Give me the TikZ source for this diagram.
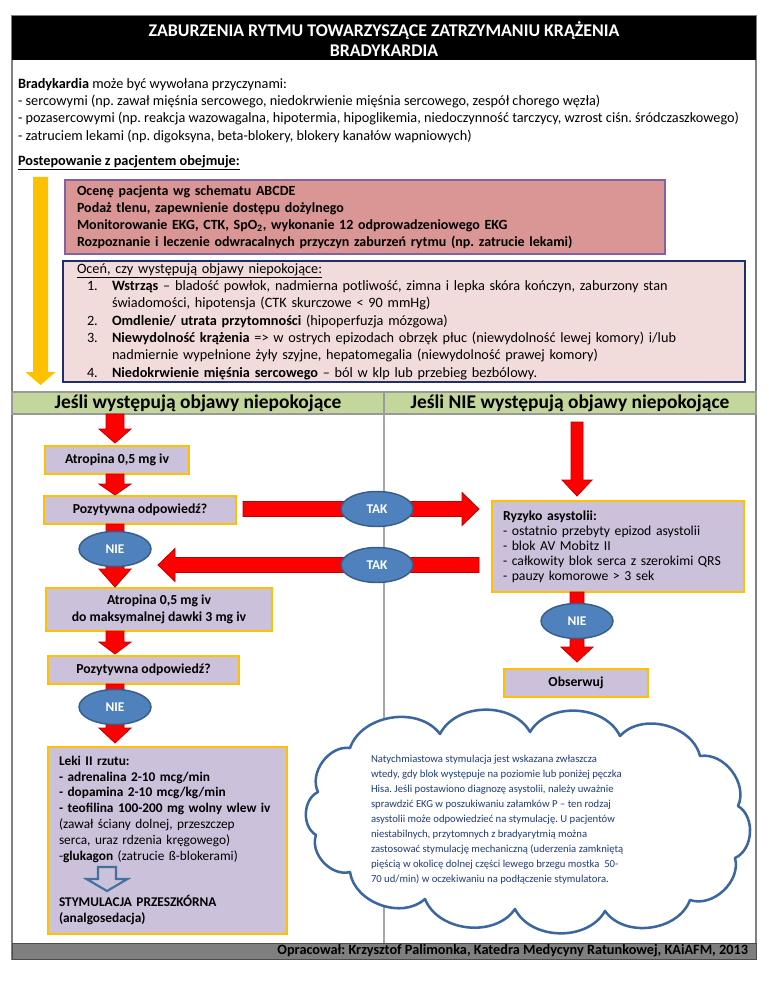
\documentclass[tikz,border=0pt]{standalone}
\usepackage{fontspec}
\setmainfont{Carlito}
\usetikzlibrary{calc,shapes.geometric}
\definecolor{boxpurple}{HTML}{CCC1DA}
\definecolor{boxyellow}{HTML}{FFC000}
\definecolor{arrred}{HTML}{FF0000}
\definecolor{arrdark}{HTML}{C00000}
\definecolor{ellfill}{HTML}{4F81BD}
\definecolor{elldraw}{HTML}{385D8A}
\definecolor{pinkA}{HTML}{D99694}
\definecolor{pinkAdraw}{HTML}{8064A2}
\definecolor{pinkB}{HTML}{F2DCDB}
\definecolor{navy}{HTML}{1F2F6B}
\definecolor{greenband}{HTML}{C3D69B}
\definecolor{framegray}{HTML}{808080}
\definecolor{footgray}{HTML}{7F7F7F}
\definecolor{cloudline}{HTML}{3C66A0}
\definecolor{cloudtext}{HTML}{1F3C7A}
\definecolor{hollowblue}{HTML}{41719C}
\newcommand\fsz[2]{\fontsize{#1}{#2}\selectfont}
% vertical (downward) block arrow: style, from, to, shaft half width, head half width, head length (px)
\newcommand\dblk[6]{%
 \path[#1] let \p1=(#2), \p2=(#3) in
  ({\x1-#4*0.75pt},\y1) -- ({\x1+#4*0.75pt},\y1) -- ({\x1+#4*0.75pt},{\y2+#6*0.75pt})
  -- ({\x1+#5*0.75pt},{\y2+#6*0.75pt}) -- (\x1,\y2) -- ({\x1-#5*0.75pt},{\y2+#6*0.75pt})
  -- ({\x1-#4*0.75pt},{\y2+#6*0.75pt}) -- cycle;}
% horizontal block arrow: style, from, to, shaft hw, head hw, head length, sign (-1 right, 1 left)
\newcommand\hblk[7]{%
 \path[#1] let \p1=(#2), \p2=(#3) in
  (\x1,{\y1+#4*0.75pt}) -- ({\x2+#7*#6*0.75pt},{\y1+#4*0.75pt}) -- ({\x2+#7*#6*0.75pt},{\y1+#5*0.75pt})
  -- (\x2,\y1) -- ({\x2+#7*#6*0.75pt},{\y1-#5*0.75pt}) -- ({\x2+#7*#6*0.75pt},{\y1-#4*0.75pt})
  -- (\x1,{\y1-#4*0.75pt}) -- cycle;}
\begin{document}
\frenchspacing
\begin{tikzpicture}[x=0.75pt,y=-0.75pt,
  every node/.style={outer sep=0pt},
  pbox/.style={draw=boxyellow, line width=2.2pt, fill=boxpurple, inner sep=0pt, font=\bfseries\fsz{10.3}{12.5}},
  ellnode/.style={ellipse, draw=elldraw, line width=1.1pt, fill=ellfill, text=white, inner sep=0pt,
     minimum width=72*0.75pt, minimum height=35*0.75pt, font=\bfseries\fsz{10}{11}},
  redarr/.style={fill=arrred, draw=arrdark, line width=0.6pt, line join=miter},
  yelarr/.style={fill=boxyellow},
  hollowarr/.style={fill=boxpurple, draw=hollowblue, line width=1.6pt, line join=miter},
  band/.style={fill=greenband, draw=gray!80, line width=0.8pt, inner sep=0pt, anchor=north west,
     minimum width=372*0.75pt, minimum height=22*0.75pt, font=\bfseries\fsz{14.6}{16}},
  cloudpath/.style={draw=cloudline, fill=white, line width=1.9pt, line join=round},
  puff/.style={bend left=62},
]
\useasboundingbox (0,0) rectangle (768,994);
% frame
\draw[framegray, line width=1.1pt] (12,16) rectangle (756,959);
\node[fill=black, anchor=north west, minimum width=744*0.75pt, minimum height=44*0.75pt, inner sep=0pt] (title) at (12,16) {};
\node[text=white, align=center, font=\bfseries\fsz{13.4}{15}] (titletxt) at ([yshift=-0.75pt]title.center) {ZABURZENIA RYTMU TOWARZYSZĄCE ZATRZYMANIU KRĄŻENIA\\BRADYKARDIA};
% intro text
\node[anchor=north west, align=left, inner sep=0pt, font=\fsz{10.7}{13}] (intro) at (18,78)
 {\textbf{Bradykardia} może być wywołana przyczynami:\\
 - sercowymi (np. zawał mięśnia sercowego, niedokrwienie mięśnia sercowego, zespół chorego węzła)\\
 - pozasercowymi (np. reakcja wazowagalna, hipotermia, hipoglikemia, niedoczynność tarczycy, wzrost ciśn. śródczaszkowego)\\
 - zatruciem lekami (np. digoksyna, beta-blokery, blokery kanałów wapniowych)};
\node[anchor=north west, inner sep=0pt, font=\bfseries\fsz{10.7}{13}] (postep) at (18,155)
 {\underline{Postepowanie z pacjentem obejmuje:}};
% yellow arrow
\coordinate (ytop) at (40.5,177);
\coordinate (ybot) at (40.5,385);
\dblk{yelarr}{ytop}{ybot}{7.5}{15}{13}
% box 1
\node[anchor=north west, draw=pinkAdraw, line width=2.2pt, fill=pinkA, minimum width=600*0.75pt, minimum height=74*0.75pt,
  inner xsep=9pt, inner ysep=0pt, text width=576*0.75pt, align=left, font=\bfseries\fsz{10.5}{12.75}] (abcde) at (65,180)
 {Ocenę pacjenta wg schematu ABCDE\\
 Podaż tlenu, zapewnienie dostępu dożylnego\\
 Monitorowanie EKG, CTK, SpO\textsubscript{2}, wykonanie 12 odprowadzeniowego EKG\\
 Rozpoznanie i leczenie odwracalnych przyczyn zaburzeń rytmu (np. zatrucie lekami)};
% box 2
\newcommand\itm[1]{\hspace*{7.5pt}\makebox[18.75pt][l]{#1}}
\newcommand\cnt{\hspace*{26.25pt}}
\node[anchor=north west, draw=navy, line width=2.2pt, fill=pinkB, minimum width=682*0.75pt, minimum height=121*0.75pt,
  inner xsep=10.5pt, inner ysep=0pt, text width=654*0.75pt, align=left, font=\fsz{10.7}{13}] (objawy) at (63,261)
 {\underline{Oceń, czy występują objawy niepokojące:}\\
 \itm{1.}\textbf{Wstrząs} – bladość powłok, nadmierna potliwość, zimna i lepka skóra kończyn, zaburzony stan\\
 \cnt świadomości, hipotensja (CTK skurczowe < 90 mmHg)\\
 \itm{2.}\textbf{Omdlenie/ utrata przytomności} (hipoperfuzja mózgowa)\\
 \itm{3.}\textbf{Niewydolność krążenia} => w ostrych epizodach obrzęk płuc (niewydolność lewej komory) i/lub\\
 \cnt nadmiernie wypełnione żyły szyjne, hepatomegalia (niewydolność prawej komory)\\
 \itm{4.}\textbf{Niedokrwienie mięśnia sercowego} – ból w klp lub przebieg bezbólowy.};
% green band
\node[band] (hdrL) at (12,392) {Jeśli występują objawy niepokojące};
\node[band] (hdrR) at (384,392) {Jeśli NIE występują objawy niepokojące};
\draw[gray!70, line width=0.9pt] (hdrL.south east) -- (hdrL.south east |- 0,943);
% footer
\node[fill=footgray, draw=gray!60!black, line width=0.6pt, anchor=north west, minimum width=744*0.75pt, minimum height=16*0.75pt, inner sep=0pt] (footer) at (12,943) {};
\node[anchor=east, inner sep=0pt, font=\bfseries\fsz{10.7}{12}] (foottxt) at ([xshift=-6pt]footer.east)
 {Opracował: Krzysztof Palimonka, Katedra Medycyny Ratunkowej, KAiAFM, 2013};
% left column boxes
\node[pbox, anchor=north west, minimum width=144*0.75pt, minimum height=28*0.75pt] (atr1) at (45,446) {Atropina 0,5 mg iv};
\node[pbox, anchor=north west, minimum width=192*0.75pt, minimum height=28*0.75pt] (pos1) at (44,496) {Pozytywna odpowiedź?};
\node[pbox, anchor=north west, minimum width=226*0.75pt, minimum height=43*0.75pt, align=center] (atr2) at (46,588)
 {Atropina 0,5 mg iv\\do maksymalnej dawki 3 mg iv};
\node[pbox, anchor=north west, minimum width=191*0.75pt, minimum height=28*0.75pt] (pos2) at (48,656) {Pozytywna odpowiedź?};
\node[pbox, anchor=north west, minimum width=239*0.75pt, minimum height=187*0.75pt, font=\fsz{10}{11.9},
  text width=217*0.75pt, align=left] (leki) at (48,747)
 {\textbf{Leki II rzutu:}\\
 \textbf{- adrenalina 2-10 mcg/min}\\
 \textbf{- dopamina 2-10 mcg/kg/min}\\
 \textbf{- teofilina 100-200 mg wolny wlew iv}\\
 (zawał ściany dolnej, przeszczep\\
 serca, uraz rdzenia kręgowego)\\
 -\textbf{glukagon} (zatrucie ß-blokerami)\\[23pt]
 \textbf{STYMULACJA PRZESZKÓRNA}\\
 \textbf{(analgosedacja)}};
% right column boxes
\node[pbox, anchor=north west, minimum width=252*0.75pt, minimum height=91*0.75pt, font=\fsz{10.3}{11.3},
  text width=230*0.75pt, align=left] (ryz) at (492,501)
 {\textbf{Ryzyko asystolii:}\\
 - ostatnio przebyty epizod asystolii\\
 - blok AV Mobitz II\\
 - całkowity blok serca z szerokimi QRS\\
 - pauzy komorowe > 3 sek};
\node[pbox, anchor=north west, minimum width=144*0.75pt, minimum height=28*0.75pt] (obs) at (504,669) {Obserwuj};
% ellipse positions (drawn later)
\coordinate (nie1c) at (115,549);
\coordinate (nie2c) at (115,707);
\coordinate (nie3c) at (577,621);
\coordinate (tak1c) at (377,509);
\coordinate (tak2c) at (377,565);
\coordinate (h2tip) at (158,565);
% red arrows
\dblk{redarr}{nie1c |- hdrL.south}{[yshift=2.25pt]nie1c |- atr1.north}{9}{16}{14}
\dblk{redarr}{nie1c |- atr1.south}{[yshift=0.75pt]nie1c |- pos1.north}{9}{16}{11}
\dblk{redarr}{nie1c |- pos1.south}{[yshift=0.75pt]nie1c |- atr2.north}{9}{16}{18}
\dblk{redarr}{nie1c |- atr2.south}{[yshift=1.5pt]nie1c |- pos2.north}{9}{16}{12}
\dblk{redarr}{nie2c |- pos2.south}{[yshift=3pt]nie2c |- leki.north}{9}{16}{15}
\dblk{redarr}{[yshift=-6pt]nie3c |- hdrR.south}{[yshift=3.75pt]nie3c |- ryz.north}{6}{15}{16}
\dblk{redarr}{nie3c |- ryz.south}{[yshift=5.25pt]nie3c |- obs.north}{7}{16}{15}
\hblk{redarr}{[xshift=5.25pt]pos1.east |- tak1c}{[xshift=-9.75pt]ryz.west |- tak1c}{7.5}{16.5}{17}{-1}
\hblk{redarr}{[xshift=-9.75pt]ryz.west |- tak2c}{h2tip}{7.5}{16.5}{17}{1}
% ellipses
\node[ellnode] (nie1) at (nie1c) {NIE};
\node[ellnode] (nie2) at (nie2c) {NIE};
\node[ellnode] (nie3) at (nie3c) {NIE};
\node[ellnode] (tak1) at (tak1c) {TAK};
\node[ellnode] (tak2) at (tak2c) {TAK};
% hollow arrow
\coordinate (htop) at (107,867);
\coordinate (htip) at (107,891);
\dblk{hollowarr}{htop}{htip}{9}{20.5}{12}
% cloud (drawn as a closed chain of puffs)
\draw[cloudpath] (318,792) to[puff] (350,748) to[puff] (440,734) to[puff] (530,732) to[puff] (620,736)
  to[puff] (700,756) to[puff] (738,806) to[puff] (735,858) to[puff] (690,900) to[puff] (605,911)
  to[puff] (515,909) to[puff] (425,899) to[puff] (350,872) to[puff] (316,835) to[puff] (318,792) -- cycle;
\node[anchor=north west, align=left, inner sep=0pt, text=cloudtext, font=\fsz{8}{11.25}] (cloudtxt) at (371,755)
 {Natychmiastowa stymulacja jest wskazana zwłaszcza\\
 wtedy, gdy blok występuje na poziomie lub poniżej pęczka\\
 Hisa. Jeśli postawiono diagnozę asystolii, należy uważnie\\
 sprawdzić EKG w poszukiwaniu załamków P – ten rodzaj\\
 asystolii może odpowiedzieć na stymulację. U pacjentów\\
 niestabilnych, przytomnych z bradyarytmią można\\
 zastosować stymulację mechaniczną (uderzenia zamkniętą\\
 pięścią w okolicę dolnej części lewego brzegu mostka~~50-\\
 70 ud/min) w oczekiwaniu na podłączenie stymulatora.};
\end{tikzpicture}
\end{document}
